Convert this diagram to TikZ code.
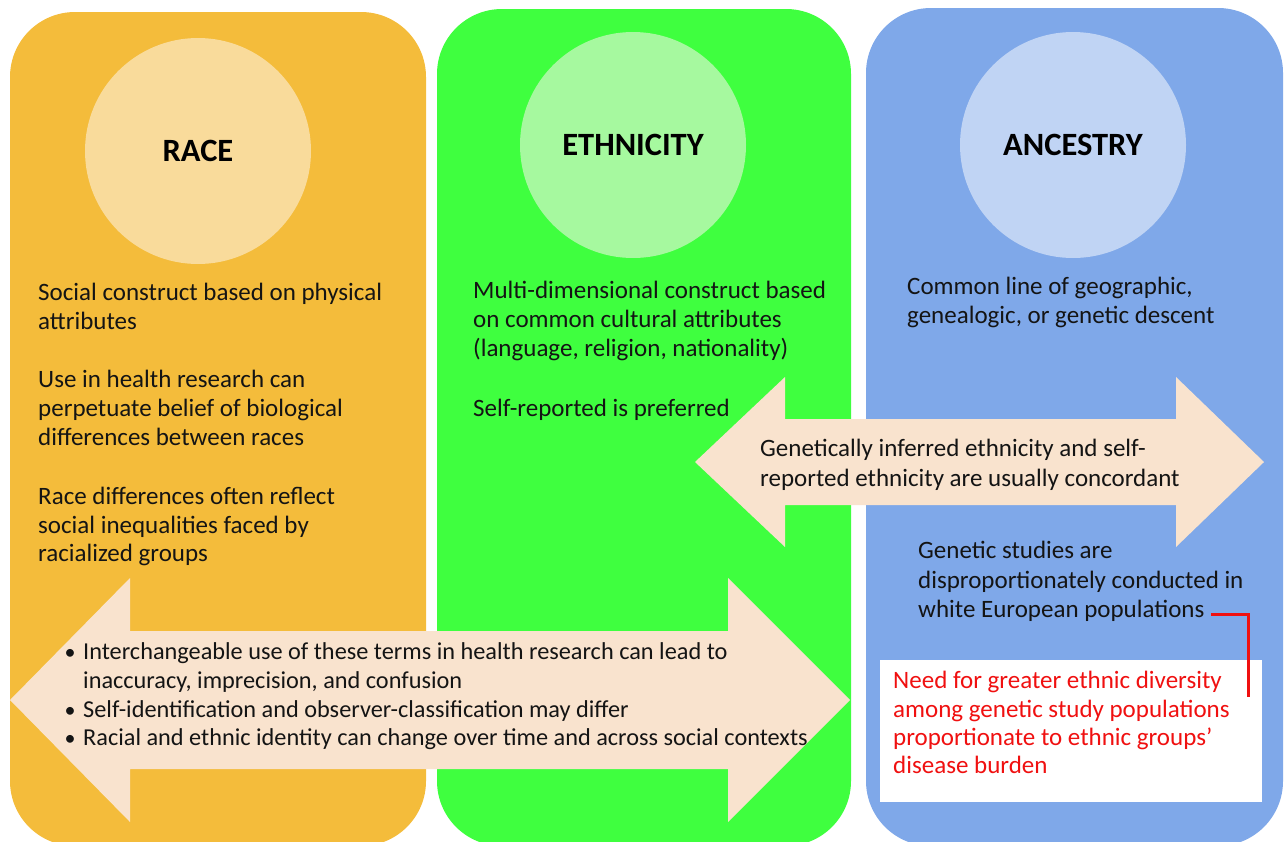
\documentclass[tikz,border=0pt]{standalone}
\usepackage{fontspec}
\setmainfont{Carlito}
\definecolor{raceback}{HTML}{F4BC3B}
\definecolor{racedisc}{HTML}{F9DB9B}
\definecolor{ethback}{HTML}{3FFF3F}
\definecolor{ethdisc}{HTML}{A6F99F}
\definecolor{ancback}{HTML}{7FA8E9}
\definecolor{ancdisc}{HTML}{C0D4F4}
\definecolor{peach}{HTML}{F9E3CE}
\definecolor{inkred}{HTML}{F01010}
\begin{document}
\begin{tikzpicture}[x=1pt,y=-1pt,
  panel/.style={rounded corners=65pt},
  disc/.style={circle, minimum size=226pt, inner sep=0pt,
    font=\fontsize{32.5}{38}\selectfont\bfseries},
  txt/.style={anchor=base west, inner sep=0pt,
    font=\fontsize{25}{30}\selectfont, text=black!92},
  bultxt/.style={txt, font=\fontsize{24.3}{29}\selectfont},
  bulletdot/.style={anchor=base, inner sep=0pt,
    font=\fontsize{22}{26}\selectfont, text=black!92},
  redtxt/.style={txt, text=inkred},
  bigarrow/.style={fill=peach},
]
\useasboundingbox (0,0) rectangle (1287,841);

% three column panels
\begin{scope}
  \clip (0,0) rectangle (1287,841);
  \fill[raceback, panel] (10,12) rectangle (426,846);
  \fill[ethback, panel] (437,9) rectangle (851,846);
  \fill[ancback, panel] (866,8) rectangle (1283,846);
\end{scope}

% title discs
\node[disc, fill=racedisc] (race) at (198,151) {RACE};
\node[disc, fill=ethdisc] (eth) at (633,145) {ETHNICITY};
\node[disc, fill=ancdisc] (anc) at (1073,145) {ANCESTRY};

% race column
\node[txt] (r1) at (38,300) {Social construct based on physical};
\node[txt] (r2) at (38,329) {attributes};
\node[txt] (r3) at (38,387) {Use in health research can};
\node[txt] (r4) at (38,416) {perpetuate belief of biological};
\node[txt] (r5) at (38,445) {differences between races};
\node[txt] (r6) at (38,504) {Race differences often reflect};
\node[txt] (r7) at (38,533) {social inequalities faced by};
\node[txt] (r8) at (38,561) {racialized groups};

% ethnicity column
\node[txt] (e1) at (473,298) {Multi-dimensional construct based};
\node[txt] (e2) at (473,327) {on common cultural attributes};
\node[txt] (e3) at (473,356) {(language, religion, nationality)};
\node[txt] (e4) at (473,416) {Self-reported is preferred};

% ancestry column
\node[txt] (a1) at (907,294) {Common line of geographic,};
\node[txt] (a2) at (907,323) {genealogic, or genetic descent};

% double arrow between ethnicity and ancestry
\fill[bigarrow] (695,462) -- (785,377) -- (785,419) -- (1176,419) -- (1176,377)
  -- (1264,462) -- (1176,547) -- (1176,505) -- (785,505) -- (785,547) -- cycle;
\node[txt] (m1) at (760,456) {Genetically inferred ethnicity and self-};
\node[txt] (m2) at (760,486) {reported ethnicity are usually concordant};

% genetic studies note
\node[txt] (g1) at (918,558) {Genetic studies are};
\node[txt] (g2) at (918,588) {disproportionately conducted in};
\node[txt] (g3) at (918,617) {white European populations};

% call for diversity
\fill[white] (880,660) rectangle (1262,802);
\node[redtxt] (n1) at (893,688) {Need for greater ethnic diversity};
\node[redtxt] (n2) at (893,717) {among genetic study populations};
\node[redtxt] (n3) at (893,745) {proportionate to ethnic groups’};
\node[redtxt] (n4) at (893,773) {disease burden};
\coordinate (linkstart) at (1211,614);
\coordinate (linkend) at (1248,697);
\draw[inkred, line width=3pt] (linkstart) -| (linkend);

% double arrow across race and ethnicity
\fill[bigarrow] (10,700) -- (130,578) -- (130,631) -- (728,631) -- (728,578)
  -- (850,700) -- (728,822) -- (728,769) -- (130,769) -- (130,822) -- cycle;
\node[bulletdot] (b1d) at (70,659) {•};
\node[bultxt] (b1) at (83,659) {Interchangeable use of these terms in health research can lead to};
\node[bultxt] (b1c) at (83,688) {inaccuracy, imprecision, and confusion};
\node[bulletdot] (b2d) at (70,717) {•};
\node[bultxt] (b2) at (83,717) {Self-identification and observer-classification may differ};
\node[bulletdot] (b3d) at (70,745) {•};
\node[bultxt] (b3) at (83,745) {Racial and ethnic identity can change over time and across social contexts};
\end{tikzpicture}
\end{document}
